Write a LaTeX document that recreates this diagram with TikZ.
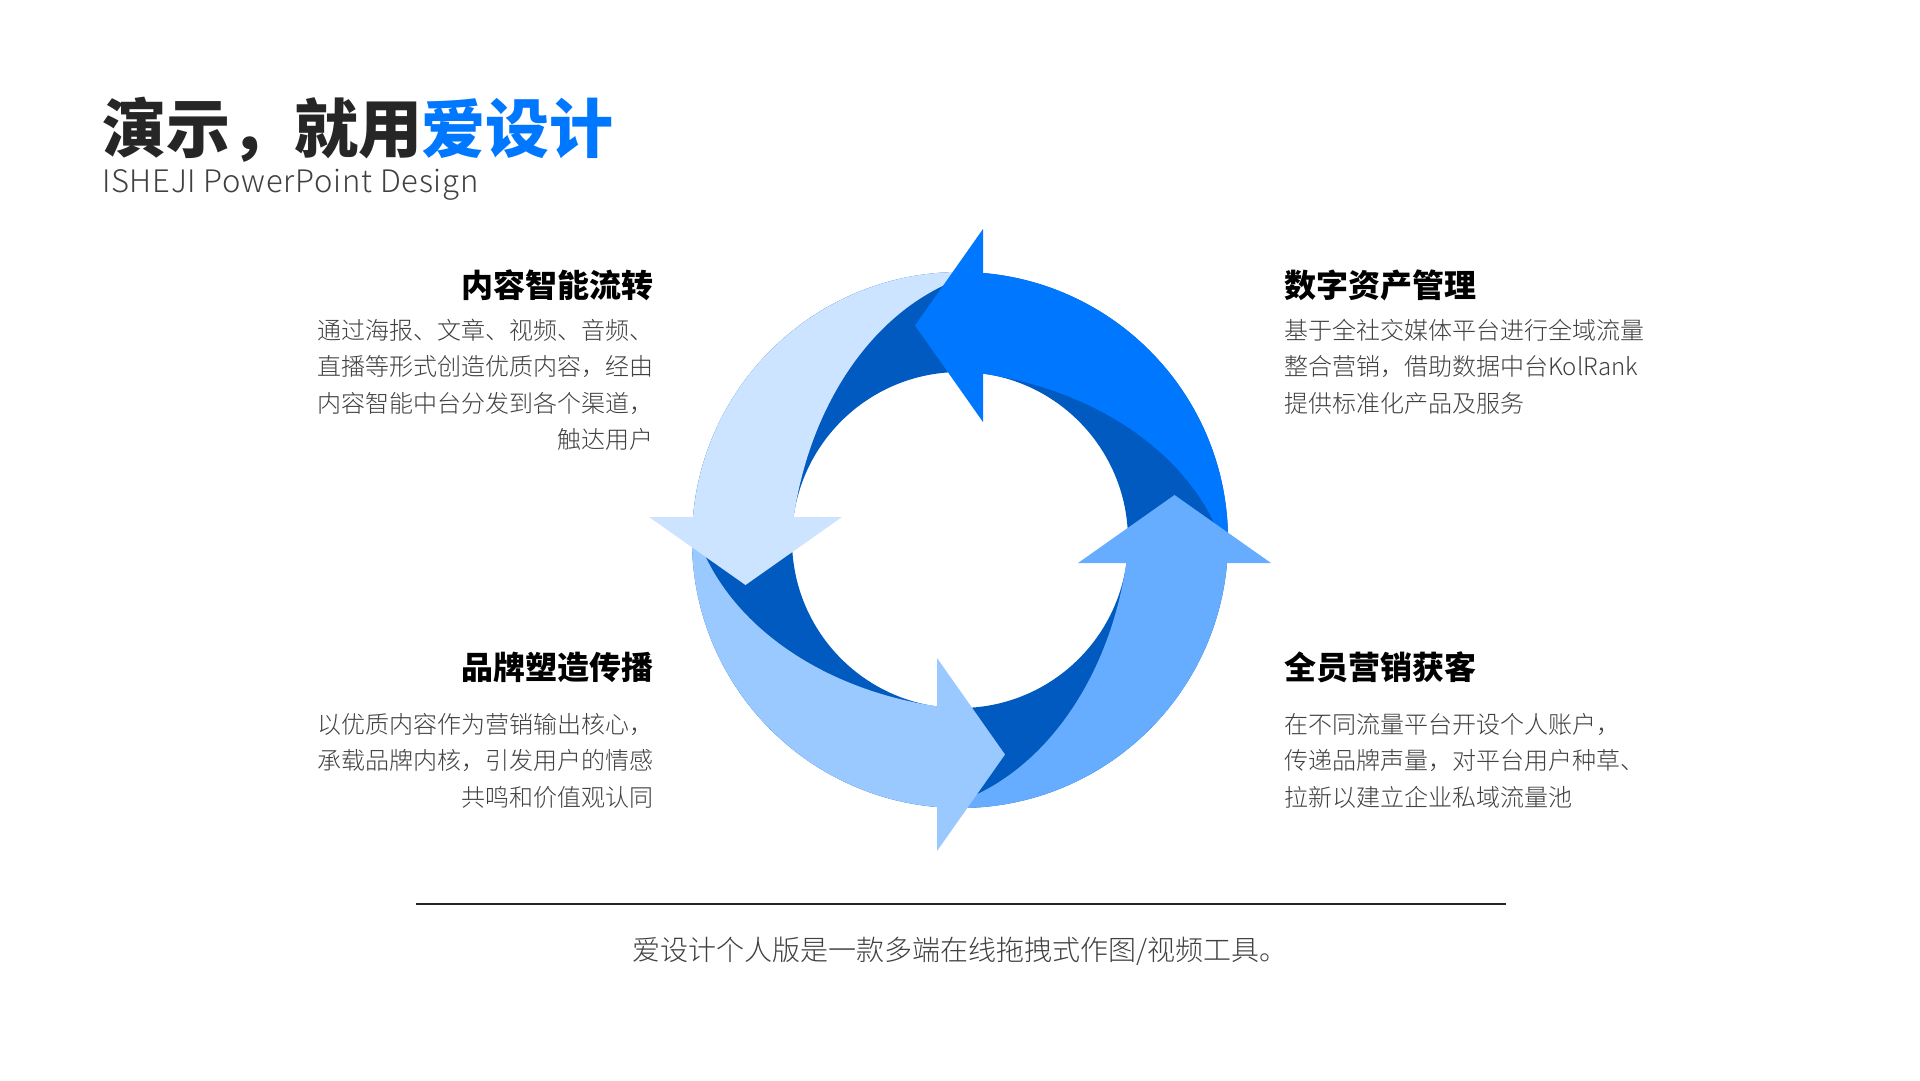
\documentclass[tikz,border=0pt]{standalone}
\usepackage{fontspec}
\setmainfont{Noto Sans CJK SC}
\IfFontExistsTF{Noto Sans CJK SC Light}
  {\newfontfamily\lightfont{Noto Sans CJK SC Light}\newfontfamily\sublight[LetterSpace=2.4]{Noto Sans CJK SC Light}\def\lightcol{404040}}
  {\newfontfamily\lightfont{Noto Sans CJK SC}\newfontfamily\sublight[LetterSpace=2.4]{Noto Sans CJK SC}\def\lightcol{555555}}
\definecolor{brand}{HTML}{0077FF}
\definecolor{ringdark}{HTML}{005AC0}
\definecolor{arrB}{HTML}{CCE4FF}
\definecolor{arrC}{HTML}{99C9FF}
\definecolor{arrD}{HTML}{66ADFF}
\definecolor{titlegray}{HTML}{262626}
\definecolor{txtgray}{HTML}{\lightcol}
\newcommand\titlefont{\bfseries\fontsize{64}{72}\selectfont}
\newcommand\subfont{\sublight\fontsize{31}{38}\selectfont}
\newcommand\headfont{\bfseries\fontsize{32}{38}\selectfont}
\newcommand\bodyfont{\lightfont\fontsize{24}{30}\selectfont}
\newcommand\footfont{\lightfont\fontsize{28}{34}\selectfont}
\tikzset{
  txt/.style={inner sep=0pt, outer sep=0pt},
  headl/.style={txt, anchor=base east, font=\headfont, text=black},
  headr/.style={txt, anchor=base west, font=\headfont, text=black},
  bodyl/.style={txt, anchor=base east, font=\bodyfont, text=txtgray},
  bodyr/.style={txt, anchor=base west, font=\bodyfont, text=txtgray},
}
\begin{document}
\begin{tikzpicture}[x=1pt,y=1pt]
\useasboundingbox (0,0) rectangle (1920,-1080);
\fill[white] (0,0) rectangle (1920,-1080);

% title
\node[txt, anchor=base west, font=\titlefont] (title) at (102,-152)
  {\textcolor{titlegray}{演示，就用}\textcolor{brand}{爱设计}};
\node[txt, anchor=base west, font=\subfont, text=txtgray] (subtitle) at (102,-192)
  {ISHEJI PowerPoint Design};

% ring
\coordinate (ring) at (960,-540);
\fill[ringdark, even odd rule] (ring) circle[radius=268] (ring) circle[radius=168];
\foreach \ang/\col in {0/brand, 90/arrB, 180/arrC, 270/arrD}{
  \begin{scope}[shift={(ring)}, rotate=\ang]
    \fill[\col] (85.72:268) arc[start angle=85.72, end angle=-4, radius=268]
      .. controls (242.3,78.3) and (142.8,149.5) .. (20,166.8) -- cycle;
  \end{scope}
}
\foreach \ang/\col in {0/brand, 90/arrB, 180/arrC, 270/arrD}{
  \begin{scope}[shift={(ring)}, rotate=\ang]
    \fill[\col] (23,118) -- (23,311) -- (-45,214.5) -- cycle;
  \end{scope}
}

% top-left block
\node[headl] (h1) at (653,-297.7) {内容智能流转};
\node[bodyl] (t1a) at (653,-339.1) {通过海报、文章、视频、音频、};
\node[bodyl] (t1b) at (653,-375.6) {直播等形式创造优质内容，经由};
\node[bodyl] (t1c) at (653,-412.1) {内容智能中台分发到各个渠道，};
\node[bodyl] (t1d) at (653,-448.6) {触达用户};

% top-right block
\node[headr] (h2) at (1284,-297.7) {数字资产管理};
\node[bodyr] (t2a) at (1284,-339.1) {基于全社交媒体平台进行全域流量};
\node[bodyr] (t2b) at (1284,-375.6) {整合营销，借助数据中台KolRank};
\node[bodyr] (t2c) at (1284,-412.1) {提供标准化产品及服务};

% bottom-left block
\node[headl] (h3) at (653,-679.7) {品牌塑造传播};
\node[bodyl] (t3a) at (653,-733.1) {以优质内容作为营销输出核心，};
\node[bodyl] (t3b) at (653,-769.6) {承载品牌内核，引发用户的情感};
\node[bodyl] (t3c) at (653,-806.1) {共鸣和价值观认同};

% bottom-right block
\node[headr] (h4) at (1284,-679.7) {全员营销获客};
\node[bodyr] (t4a) at (1284,-733.1) {在不同流量平台开设个人账户，};
\node[bodyr] (t4b) at (1284,-769.6) {传递品牌声量，对平台用户种草、};
\node[bodyr] (t4c) at (1284,-806.1) {拉新以建立企业私域流量池};

% footer
\coordinate (la) at (416,-904);
\coordinate (lb) at (1506,-904);
\draw[line width=1.5pt, black!85] (la) -- (lb);
\node[txt, anchor=base, font=\footfont, text=txtgray] (foot) at (960,-960.6)
  {爱设计个人版是一款多端在线拖拽式作图/视频工具。};
\end{tikzpicture}
\end{document}
